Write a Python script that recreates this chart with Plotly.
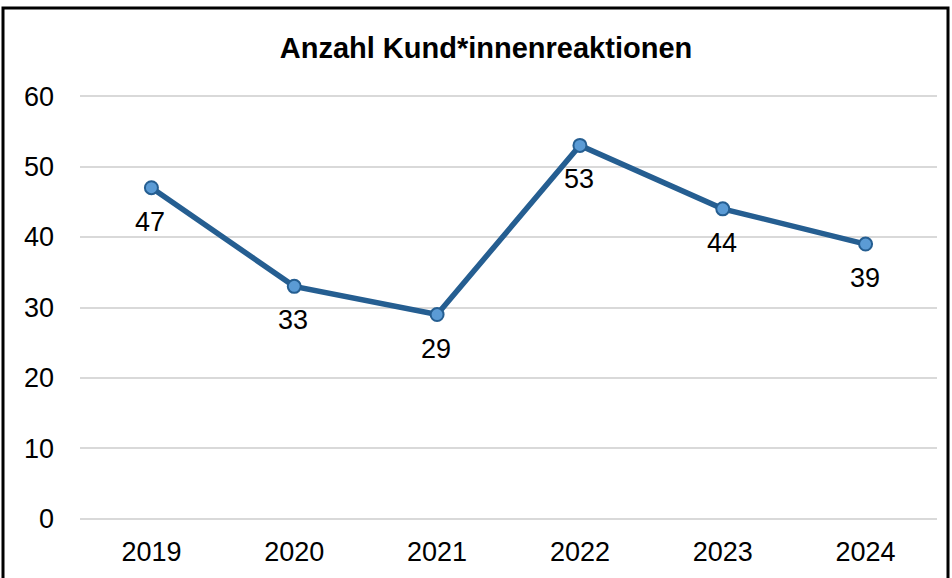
import plotly.graph_objects as go

years = ["2019", "2020", "2021", "2022", "2023", "2024"]
values = [47, 33, 29, 53, 44, 39]
y_ticks = [0, 10, 20, 30, 40, 50, 60]

W, H = 952, 578
L, R, T, B = 80, 15, 95, 58
pw = W - L - R
ph = H - T - B

def px_x(p):
    return (p - L) / pw

def px_y(p):
    return (H - B - p) / ph

FONT = "Liberation Sans, Arial"

fig = go.Figure()
fig.add_trace(go.Scatter(
    x=years, y=values,
    mode="lines+markers",
    line=dict(color="#255E91", width=5.5),
    marker=dict(size=13, color="#5B9BD5", line=dict(color="#255E91", width=2)),
    cliponaxis=False,
    showlegend=False,
))

# category axis: position annotations by category index
annotations = [
    dict(x=i, y=v, xref="x", yref="y", text=str(v), showarrow=False,
         yshift=-34, xshift=-1,
         font=dict(family=FONT, size=27, color="#000000"))
    for i, v in enumerate(values)
]

fig.update_layout(
    width=W, height=H,
    margin=dict(l=L, r=R, t=T, b=B),
    paper_bgcolor="white", plot_bgcolor="white",
    font=dict(family=FONT, size=27, color="#000000"),
    title=dict(
        text="<b>Anzahl Kund*innenreaktionen</b>",
        x=486 / W, xref="container", xanchor="center",
        y=1 - 48 / H, yref="container", yanchor="middle",
        font=dict(family=FONT, size=29, color="#000000"),
    ),
    xaxis=dict(
        type="category", range=[-0.5, 5.5],
        showgrid=False, zeroline=False, showline=False,
        ticks="", tickfont=dict(size=27), ticklabelstandoff=13,
    ),
    yaxis=dict(
        range=[-0.15, 60.15], tickvals=y_ticks,
        showgrid=True, gridcolor="#D9D9D9", gridwidth=2,
        zeroline=False, showline=False, ticks="",
        tickfont=dict(size=27), ticklabelstandoff=25,
    ),
    annotations=annotations,
    shapes=[dict(
        type="rect", xref="paper", yref="paper",
        x0=px_x(3), x1=px_x(948), y0=px_y(600), y1=px_y(8),
        line=dict(color="#000000", width=3), fillcolor="rgba(0,0,0,0)",
        layer="above",
    )],
)

fig.write_html("out.html", config={"displayModeBar": False},
               post_script="document.body.style.margin='0';")
